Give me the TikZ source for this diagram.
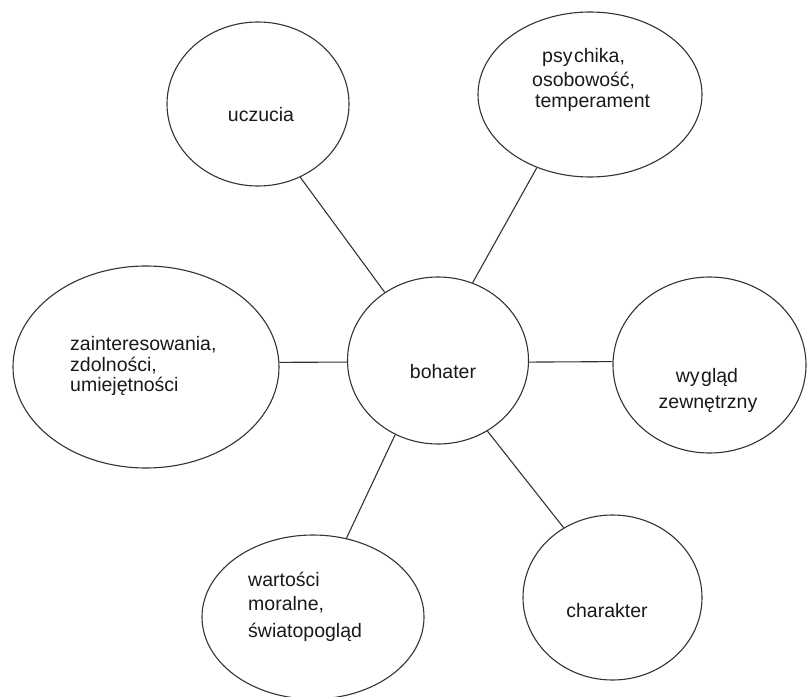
\documentclass[tikz,border=0pt]{standalone}
\usepackage{fontspec}
\setmainfont{Liberation Sans}
\usetikzlibrary{shapes.geometric}
\begin{document}
\begin{tikzpicture}[x=1bp,y=-1bp,
  bubble/.style={draw=black!80, line width=1.1bp, ellipse, inner sep=0pt},
  link/.style={draw=black!80, line width=1.1bp},
  txt/.style={inner sep=0pt, font=\fontsize{19.5bp}{23bp}\selectfont, text=black!90}]
\useasboundingbox (0,0) rectangle (807,697);
% bubbles
\node[bubble, minimum width=182bp, minimum height=164bp] (uczucia) at (258,104) {};
\node[bubble, minimum width=224bp, minimum height=165bp] (psychika) at (590,94.5) {};
\node[bubble, minimum width=181bp, minimum height=167bp] (bohater) at (438,360.5) {};
\node[bubble, minimum width=266bp, minimum height=202bp] (zaint) at (146,367) {};
\node[bubble, minimum width=193bp, minimum height=176bp] (wyglad) at (709.5,365) {};
\node[bubble, minimum width=222bp, minimum height=164bp] (wartosci) at (313,617) {};
\node[bubble, minimum width=179bp, minimum height=165bp] (charakter) at (612.5,597.5) {};
% texts
\node[txt, anchor=base] (t-ucz) at (261,122) {uczucia};
\node[txt, anchor=base west] (t-psy1) at (542,63) {psy\kern1.5bp chika,};
\node[txt, anchor=base west] (t-psy2) at (532,87) {osobowość,};
\node[txt, anchor=base west] (t-psy3) at (535,108) {temperament};
\node[txt, anchor=base] (t-boh) at (443,378) {bohater};
\node[txt, anchor=base west] (t-zai1) at (70,350) {zainteresowania,};
\node[txt, anchor=base west] (t-zai2) at (70,371) {zdolności,};
\node[txt, anchor=base west] (t-zai3) at (70,391) {umiejętności};
\node[txt, anchor=base] (t-wyg1) at (707,382) {wy\kern1.5bp gląd};
\node[txt, anchor=base] (t-wyg2) at (708,408) {zewnętrzny};
\node[txt, anchor=base west] (t-war1) at (248,586) {wartości};
\node[txt, anchor=base west] (t-war2) at (248,610) {moralne,};
\node[txt, anchor=base west] (t-war3) at (248,637) {światopogląd};
\node[txt, anchor=base] (t-cha) at (607,617) {charakter};
% connectors
\draw[link] (uczucia.-60) -- (bohater.128);
\draw[link] (psychika.-126) -- (bohater.66);
\draw[link] (zaint.2) -- (bohater.181);
\draw[link] (bohater.-1) -- (wyglad.178);
\draw[link] (bohater.-120) -- (wartosci.67);
\draw[link] (bohater.-55) -- (charakter.125);
\end{tikzpicture}
\end{document}
